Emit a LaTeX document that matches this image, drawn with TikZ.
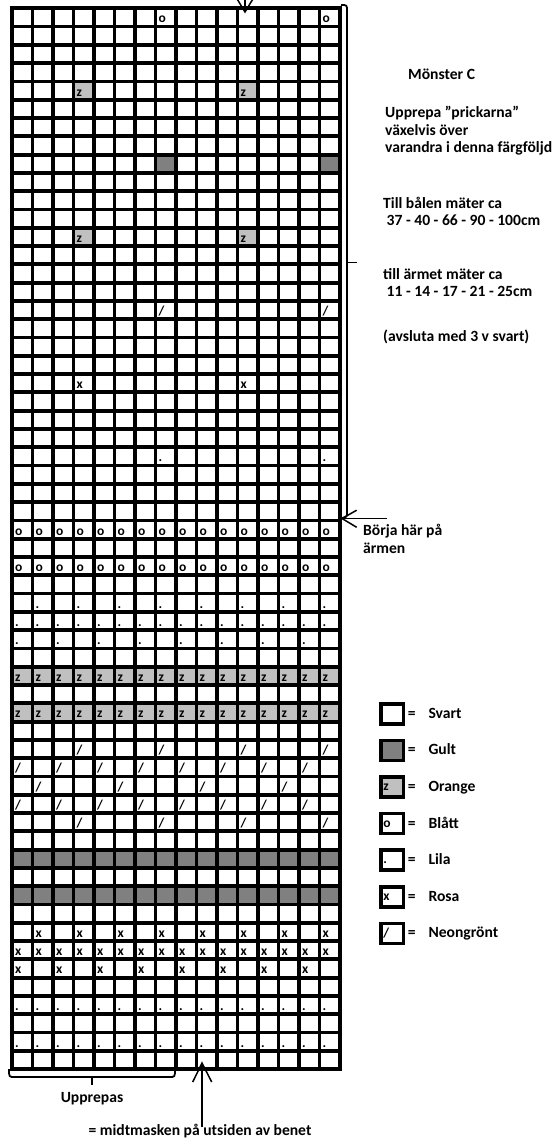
\documentclass[tikz,border=0pt]{standalone}
\usepackage{fontspec}
\setmainfont{Carlito}
\definecolor{dgray}{HTML}{808080}
\definecolor{lgray}{HTML}{C0C0C0}
\newcommand\cellfill[3]{\fill[#3] ({12+#2*20.5},{8.3+#1*18.29}) rectangle ++(20.5,18.29);}
\newcommand\cellsym[3]{\node[sym] (s-#1-#2) at ({12+#2*20.5+2.8},{8.3+#1*18.29+14.6}) {#3};}
\begin{document}
\begin{tikzpicture}[x=1pt,y=-1pt,
  sym/.style={font=\fontsize{13.5}{13.5}\selectfont\bfseries, inner sep=0pt, anchor=base west},
  lbl/.style={font=\fontsize{15.6}{17}\selectfont\bfseries, inner sep=0pt, anchor=base west},
  gridline/.style={line width=3.8pt, line cap=rect},
  legbox/.style={draw, line width=3.6pt, minimum width=22.4pt, minimum height=20pt, inner sep=0pt, anchor=north west},
  brace/.style={line width=1.8pt},
  arr/.style={line width=1.5pt}]
\useasboundingbox (0,0) rectangle (552,1139);
% ---------- fills
\cellfill{8}{7}{dgray}\cellfill{8}{15}{dgray}
\foreach \c in {0,...,15} {\cellfill{46}{\c}{dgray}\cellfill{48}{\c}{dgray}\cellfill{36}{\c}{lgray}\cellfill{38}{\c}{lgray}}
\cellfill{4}{3}{lgray}\cellfill{4}{11}{lgray}\cellfill{12}{3}{lgray}\cellfill{12}{11}{lgray}
% ---------- grid
\foreach \r in {0,...,58} {\draw[gridline] (12,{8.3+\r*18.29}) -- (340,{8.3+\r*18.29});}
\foreach \c in {0,...,16} {\draw[gridline] ({12+\c*20.5},8.3) -- ({12+\c*20.5},1069.1);}
% ---------- symbols
\cellsym{0}{7}{o}\cellsym{0}{15}{o}
\cellsym{4}{3}{z}\cellsym{4}{11}{z}
\cellsym{12}{3}{z}\cellsym{12}{11}{z}
\cellsym{16}{7}{/}\cellsym{16}{15}{/}
\cellsym{20}{3}{x}\cellsym{20}{11}{x}
\cellsym{24}{7}{.}\cellsym{24}{15}{.}
\foreach \c in {0,...,15} {\cellsym{28}{\c}{o}\cellsym{30}{\c}{o}\cellsym{33}{\c}{.}\cellsym{36}{\c}{z}\cellsym{38}{\c}{z}\cellsym{51}{\c}{x}\cellsym{54}{\c}{.}\cellsym{56}{\c}{.}}
\foreach \c in {1,3,...,15} {\cellsym{32}{\c}{.}\cellsym{50}{\c}{x}}
\foreach \c in {0,2,...,14} {\cellsym{34}{\c}{.}\cellsym{41}{\c}{/}\cellsym{43}{\c}{/}\cellsym{52}{\c}{x}}
\foreach \c in {3,7,11,15} {\cellsym{40}{\c}{/}\cellsym{44}{\c}{/}}
\foreach \c in {1,5,9,13} {\cellsym{42}{\c}{/}}
% ---------- right texts
\node[lbl] (title) at (408,80) {Mönster C};
\node[lbl] (t1) at (385,118) {Upprepa ”prickarna”};
\node[lbl] (t2) at (385,135.5) {växelvis över};
\node[lbl] (t3) at (385,153) {varandra i denna färgföljd};
\node[lbl] (t4) at (383,208.3) {Till bålen mäter ca};
\node[lbl] (t5) at (383,225.7) {\ 37 - 40 - 66 - 90 - 100cm};
\node[lbl] (t6) at (383,279.3) {till ärmet mäter ca};
\node[lbl] (t7) at (383,296.7) {\ 11 - 14 - 17 - 21 - 25cm};
\node[lbl] (t8) at (383,341.7) {(avsluta med 3 v svart)};
\node[lbl] (b1) at (363,535.7) {Börja här på};
\node[lbl] (b2) at (363,553.3) {ärmen};
% ---------- right brace and arrow
\coordinate (brtop) at (341,5);
\coordinate (brbot) at (342,518);
\coordinate (brmid) at (347,262.5);
\coordinate (brtick) at (357,262.5);
\draw[brace] (brtop) .. controls (347,5) .. (347,11) -- (347,512) .. controls (347,517) .. (brbot);
\draw[brace] (brmid) -- (brtick);
\coordinate (btip) at (342,518.5);
\coordinate (btail) at (387,518.5);
\draw[arr] (btail) -- (btip);
\draw[arr] (356.7,510.2) -- (btip) -- (356.7,527.3);
% ---------- top arrow
\coordinate (ttip) at (245,12);
\coordinate (ttail) at (245,-2);
\draw[arr] (ttail) -- (ttip);
\draw[arr] (236.5,-2) -- (ttip) -- (253.5,-2);
% ---------- bottom brace
\coordinate (ubl) at (9,1069);
\coordinate (ubr) at (175,1069);
\coordinate (ubm) at (92,1077);
\coordinate (ubt) at (92,1085);
\draw[brace] (ubl) .. controls (9,1077) .. (15,1077) -- (169,1077) .. controls (175,1077) .. (ubr);
\draw[brace] (ubm) -- (ubt);
\node[lbl, anchor=base] (upp) at (92,1102) {Upprepas};
% ---------- bottom arrow
\coordinate (atip) at (202,1063);
\coordinate (atail) at (202,1127);
\draw[arr] (atail) -- (atip);
\draw[arr] (192.7,1082) -- (atip) -- (211.7,1082);
\node[lbl, anchor=base] (midt) at (200,1135.3) {= midtmasken på utsiden av benet};
% ---------- legend
\foreach \i/\f/\s/\t in {0/white//Svart,1/dgray//Gult,2/lgray/z/Orange,3/white/o/Blått,4/white/./Lila,5/white/x/Rosa,6/white/{/}/Neongrönt} {
  \node[legbox, fill=\f] (lg\i) at (379.3,{702+36.6*\i}) {};
  \node[sym] (ls\i) at (383.2,{702+36.6*\i+15.5}) {\s};
  \node[lbl, anchor=base] (le\i) at (411.7,{712+36.6*\i+6.3}) {=};
  \node[lbl] (lt\i) at (428.3,{712+36.6*\i+6.3}) {\t};
}
\end{tikzpicture}
\end{document}
